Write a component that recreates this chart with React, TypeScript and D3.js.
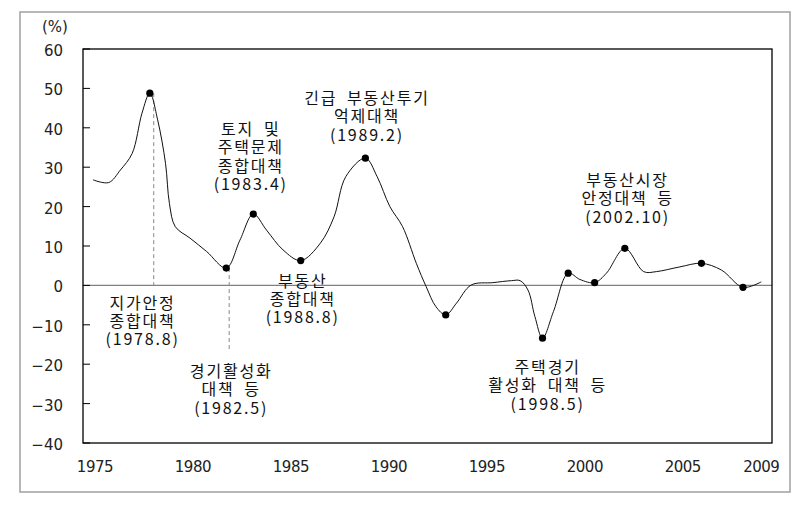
import React from 'react';
import * as d3 from 'd3';

// land price change rate (%)
const years = [
  1974.9, 1975.7, 1976.3, 1976.9, 1977.4, 1977.8, 1978.2, 1978.6, 1978.8, 1979.1,
  1979.85, 1980.7, 1981.7, 1982.4, 1983.08, 1983.76, 1984.6, 1985.5, 1986.5, 1987.2,
  1987.8, 1988.8, 1989.4, 1990.05, 1990.7, 1991.4, 1991.9, 1992.4, 1992.9, 1993.45,
  1994.2, 1995.3, 1996.25, 1996.7, 1997.1, 1997.45, 1997.84, 1998.4, 1999.15, 1999.75,
  2000.5, 2001.1, 2002.04, 2003.0, 2003.65, 2004.85, 2005.95, 2006.97, 2008.07, 2009.0,
];
const values = [
  26.8, 26.1, 29.3, 33.5, 43.7, 48.8, 42, 31, 20.8, 14.9,
  12, 8.6, 4.4, 11.5, 18.1, 14, 9, 6.3, 10.7, 17.4,
  27.6, 32.3, 27.6, 20, 14.9, 5.6, -0.3, -5.4, -7.5, -4.5,
  0.1, 0.7, 1.2, 1.2, -1.2, -7.9, -13.4, -6.6, 3.1, 1.5,
  0.7, 3.1, 9.4, 3.5, 3.5, 4.7, 5.6, 3.9, -0.5, 0.9,
];

// points marked with a dot
const markerYears = [1977.8, 1981.7, 1983.08, 1985.5, 1988.8, 1992.9, 1997.84, 1999.15, 2000.5, 2002.04, 2005.95, 2008.07];

// dashed guide lines: year, from value, to value
const guideYears = [1978.0, 1981.85];
const guideFrom = [48.8, 4.4];
const guideTo = [0, -16.5];

const xTicks = [1975, 1980, 1985, 1990, 1995, 2000, 2005, 2009];
const yTicks = [60, 50, 40, 30, 20, 10, 0, -10, -20, -30, -40];

// policy annotations, anchored at (year, value) of first line
const noteLines = [
  ['긴급\u2002부동산투기', '억제대책', '(1989.2)'],
  ['토지\u2002및', '주택문제', '종합대책', '(1983.4)'],
  ['부동산시장', '안정대책\u2002등', '(2002.10)'],
  ['지가안정', '종합대책', '(1978.8)'],
  ['부동산', '종합대책', '(1988.8)'],
  ['경기활성화', '대책\u2002등', '(1982.5)'],
  ['주택경기', '활성화\u2002대책\u2002등', '(1998.5)'],
];
const noteYears = [1988.83, 1982.9, 2002.13, 1977.38, 1985.55, 1981.9, 1998.05];
const noteValues = [47.8, 39.9, 27.0, -4.1, 1.4, -21.5, -20.5];

const W = 804;
const H = 505;
const plot = { left: 83, right: 772, top: 49, bottom: 443 };

const App = () => {
  const x = d3.scaleLinear().domain([1974.39, 2009.55]).range([plot.left, plot.right]);
  const y = d3.scaleLinear().domain([-40, 60]).range([plot.bottom, plot.top]);

  const pts: [number, number][] = years.map((yr, i) => [yr, values[i]]);
  const line = d3
    .line<[number, number]>()
    .x((d) => x(d[0]))
    .y((d) => y(d[1]))
    .curve(d3.curveCatmullRom.alpha(0.5));

  const markers = markerYears.map((yr) => [yr, values[years.indexOf(yr)]] as [number, number]);

  const tickFont = '"DejaVu Sans", sans-serif';
  const noteFont = '"Noto Sans CJK KR", sans-serif';

  return (
    <svg width={W} height={H} style={{ position: 'absolute', left: 0, top: 0, background: '#fff' }}>
      {/* outer frame */}
      <rect x={20} y={12} width={770} height={480} fill="none" stroke="#a0a0a0" strokeWidth={1.5} />

      <text x={55} y={27} fontFamily={tickFont} fontSize={15} textAnchor="middle" dominantBaseline="central" fill="#222">
        (%)
      </text>

      {/* zero line */}
      <line x1={plot.left} x2={plot.right} y1={y(0)} y2={y(0)} stroke="#808080" strokeWidth={1.2} />

      {/* y ticks */}
      {yTicks.map((t) => (
        <g key={t}>
          <line x1={plot.left} x2={plot.left + 7} y1={y(t)} y2={y(t)} stroke="#000" strokeWidth={1} />
          <text
            x={63}
            y={y(t) + 2}
            fontFamily={tickFont}
            fontSize={15}
            textAnchor="end"
            dominantBaseline="central"
            fill="#222"
          >
            {t < 0 ? '\u2212' + Math.abs(t) : t}
          </text>
        </g>
      ))}

      {/* x labels */}
      {xTicks.map((t) => (
        <text
          key={t}
          x={x(t)}
          y={467}
          fontFamily={tickFont}
          fontSize={15}
          letterSpacing={-0.5}
          textAnchor="middle"
          dominantBaseline="central"
          fill="#222"
        >
          {t}
        </text>
      ))}

      {/* guides */}
      {guideYears.map((g, i) => (
        <line
          key={g}
          x1={x(g)}
          x2={x(g)}
          y1={y(guideFrom[i])}
          y2={y(guideTo[i])}
          stroke="#888"
          strokeWidth={1}
          strokeDasharray="4,3"
        />
      ))}

      <path d={line(pts) || ''} fill="none" stroke="#111" strokeWidth={1} />

      {markers.map((d, i) => (
        <circle key={i} cx={x(d[0])} cy={y(d[1])} r={3.6} fill="#000" />
      ))}

      {/* plot frame */}
      <rect
        x={plot.left}
        y={plot.top}
        width={plot.right - plot.left}
        height={plot.bottom - plot.top}
        fill="none"
        stroke="#000"
        strokeWidth={1.3}
      />

      {/* annotations */}
      {noteLines.map((lines, i) => (
        <text
          key={i}
          fontFamily={noteFont}
          fontSize={16}
          letterSpacing={1.8}
          textAnchor="middle"
          fill="#111"
          style={{ whiteSpace: 'pre' }}
        >
          {lines.map((s, j) => (
            <tspan key={j} x={x(noteYears[i]) + 1} y={y(noteValues[i]) + j * 18.3} dominantBaseline="central">
              {s}
            </tspan>
          ))}
        </text>
      ))}
    </svg>
  );
};

export default App;
